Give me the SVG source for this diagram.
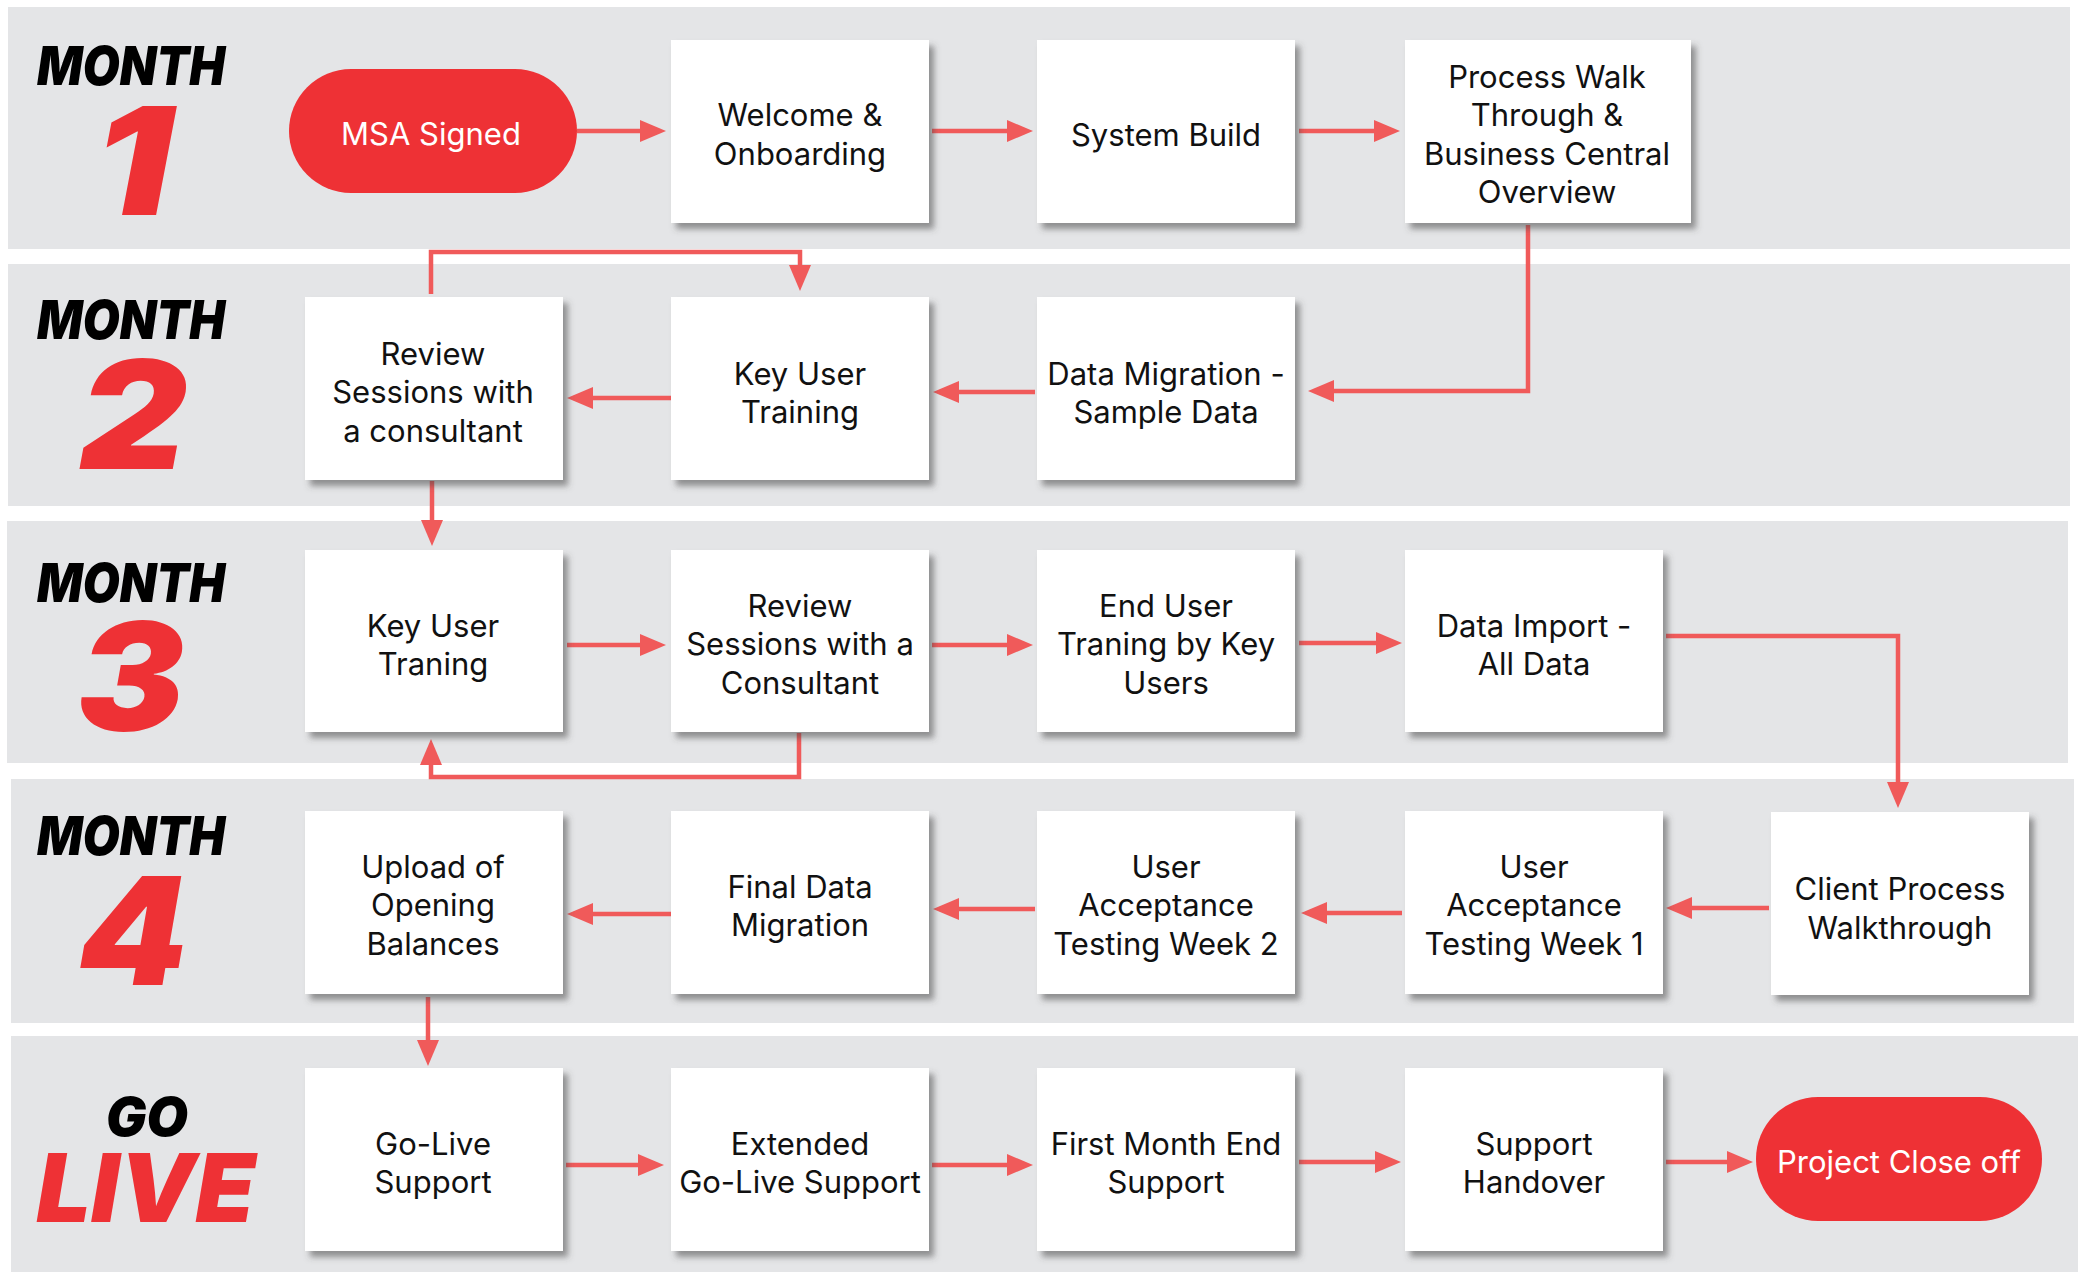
<svg xmlns="http://www.w3.org/2000/svg" width="2078" height="1272" viewBox="0 0 2078 1272">
  <defs>
    <filter id="shadow" x="-10%" y="-10%" width="130%" height="130%">
      <feDropShadow dx="5" dy="6" stdDeviation="3" flood-color="#4a4a4a" flood-opacity="0.55"/>
    </filter>
    <marker id="ah" viewBox="0 0 26 22" refX="17" refY="11" markerWidth="26" markerHeight="22" markerUnits="userSpaceOnUse" orient="auto">
      <path d="M0,0 L26,11 L0,22 z" fill="#f05a5a"/>
    </marker>
    <style>
      .band { fill: #e4e5e7; }
      .box { fill: #ffffff; filter: url(#shadow); }
      .pill { fill: #ee3135; }
      .t { font-family: Inter, "Noto Sans", sans-serif; font-size: 31px; fill: #111111; text-anchor: middle; }
      .pt { font-family: Inter, "Noto Sans", sans-serif; font-size: 31px; fill: #ffffff; text-anchor: middle; }
      .month { font-family: Inter, "Noto Sans", sans-serif; font-weight: 900; font-style: italic; font-size: 54px; fill: #000000; text-anchor: middle; }
      .num { font-family: Inter, "Noto Sans", sans-serif; font-weight: 900; font-style: italic; font-size: 150px; fill: #ee3135; text-anchor: middle; }
      .live { font-family: Inter, "Noto Sans", sans-serif; font-weight: 900; font-style: italic; font-size: 95px; fill: #ee3135; text-anchor: middle; }
      .conn path { fill: none; stroke: #f05a5a; stroke-width: 4.5; marker-end: url(#ah); }
    </style>
  </defs>

  <rect width="2078" height="1272" fill="#ffffff"/>

  <!-- month bands -->
  <g id="bands">
    <rect class="band" x="8" y="7" width="2062" height="242"/>
    <rect class="band" x="8" y="264" width="2062" height="242"/>
    <rect class="band" x="7" y="521" width="2061" height="242"/>
    <rect class="band" x="11" y="779" width="2063" height="244"/>
    <rect class="band" x="11" y="1036" width="2067" height="236"/>
  </g>

  <!-- band titles -->
  <g id="labels">
    <text class="month" x="131" y="85" textLength="188" lengthAdjust="spacingAndGlyphs">MONTH</text>
    <text class="num" x="133" y="215" textLength="78" lengthAdjust="spacingAndGlyphs">1</text>
    <text class="month" x="131" y="339" textLength="188" lengthAdjust="spacingAndGlyphs">MONTH</text>
    <text class="num" x="133" y="469" textLength="108" lengthAdjust="spacingAndGlyphs">2</text>
    <text class="month" x="131" y="602" textLength="188" lengthAdjust="spacingAndGlyphs">MONTH</text>
    <text class="num" x="131" y="731" textLength="108" lengthAdjust="spacingAndGlyphs">3</text>
    <text class="month" x="131" y="855" textLength="188" lengthAdjust="spacingAndGlyphs">MONTH</text>
    <text class="num" x="133" y="985" textLength="110" lengthAdjust="spacingAndGlyphs">4</text>
    <text class="month" x="147" y="1136" textLength="82" lengthAdjust="spacingAndGlyphs">GO</text>
    <text class="live" x="146" y="1222" textLength="219" lengthAdjust="spacingAndGlyphs">LIVE</text>
  </g>

  <!-- connectors -->
  <g id="connectors" class="conn">
    <path d="M577,131 H657"/>
    <path d="M932,131 H1024"/>
    <path d="M1299,131 H1391"/>
    <path d="M1528,225 V391 H1317"/>
    <path d="M1035,392 H942"/>
    <path d="M671,398 H576"/>
    <path d="M431,294 V252 H800 V282"/>
    <path d="M432,481 V537"/>
    <path d="M567,645 H657"/>
    <path d="M799,733 V777 H431 V748"/>
    <path d="M932,645 H1024"/>
    <path d="M1299,643 H1393"/>
    <path d="M1666,636 H1898 V799"/>
    <path d="M1769,908 H1675"/>
    <path d="M1402,913 H1310"/>
    <path d="M1035,909 H942"/>
    <path d="M671,914 H576"/>
    <path d="M428,997 V1057"/>
    <path d="M566,1165 H655"/>
    <path d="M932,1165 H1024"/>
    <path d="M1299,1162 H1392"/>
    <path d="M1666,1162 H1744"/>
  </g>

  <!-- month 1 -->
  <g id="msa-signed">
    <rect class="pill" x="289" y="69" width="288" height="124" rx="62"/>
    <text class="pt" x="431" y="145">MSA Signed</text>
  </g>
  <g id="welcome-onboarding">
    <rect class="box" x="671" y="40" width="258" height="183"/>
    <text class="t" x="800" y="126">Welcome &amp;</text>
    <text class="t" x="800" y="165">Onboarding</text>
  </g>
  <g id="system-build">
    <rect class="box" x="1037" y="40" width="258" height="183"/>
    <text class="t" x="1166" y="146">System Build</text>
  </g>
  <g id="process-walk-through">
    <rect class="box" x="1405" y="40" width="286" height="183"/>
    <text class="t" x="1547" y="88">Process Walk</text>
    <text class="t" x="1547" y="126">Through &amp;</text>
    <text class="t" x="1547" y="165">Business Central</text>
    <text class="t" x="1547" y="203">Overview</text>
  </g>

  <!-- month 2 -->
  <g id="review-sessions-m2">
    <rect class="box" x="305" y="297" width="258" height="183"/>
    <text class="t" x="433" y="365">Review</text>
    <text class="t" x="433" y="403">Sessions with</text>
    <text class="t" x="433" y="442">a consultant</text>
  </g>
  <g id="key-user-training-m2">
    <rect class="box" x="671" y="297" width="258" height="183"/>
    <text class="t" x="800" y="385">Key User</text>
    <text class="t" x="800" y="423">Training</text>
  </g>
  <g id="data-migration-sample">
    <rect class="box" x="1037" y="297" width="258" height="183"/>
    <text class="t" x="1166" y="385">Data Migration -</text>
    <text class="t" x="1166" y="423">Sample Data</text>
  </g>

  <!-- month 3 -->
  <g id="key-user-traning-m3">
    <rect class="box" x="305" y="550" width="258" height="182"/>
    <text class="t" x="433" y="637">Key User</text>
    <text class="t" x="433" y="675">Traning</text>
  </g>
  <g id="review-sessions-m3">
    <rect class="box" x="671" y="550" width="258" height="182"/>
    <text class="t" x="800" y="617">Review</text>
    <text class="t" x="800" y="655">Sessions with a</text>
    <text class="t" x="800" y="694">Consultant</text>
  </g>
  <g id="end-user-training">
    <rect class="box" x="1037" y="550" width="258" height="182"/>
    <text class="t" x="1166" y="617">End User</text>
    <text class="t" x="1166" y="655">Traning by Key</text>
    <text class="t" x="1166" y="694">Users</text>
  </g>
  <g id="data-import-all">
    <rect class="box" x="1405" y="550" width="258" height="182"/>
    <text class="t" x="1534" y="637">Data Import -</text>
    <text class="t" x="1534" y="675">All Data</text>
  </g>

  <!-- month 4 -->
  <g id="upload-opening-balances">
    <rect class="box" x="305" y="811" width="258" height="183"/>
    <text class="t" x="433" y="878">Upload of</text>
    <text class="t" x="433" y="916">Opening</text>
    <text class="t" x="433" y="955">Balances</text>
  </g>
  <g id="final-data-migration">
    <rect class="box" x="671" y="811" width="258" height="183"/>
    <text class="t" x="800" y="898">Final Data</text>
    <text class="t" x="800" y="936">Migration</text>
  </g>
  <g id="uat-week-2">
    <rect class="box" x="1037" y="811" width="258" height="183"/>
    <text class="t" x="1166" y="878">User</text>
    <text class="t" x="1166" y="916">Acceptance</text>
    <text class="t" x="1166" y="955">Testing Week 2</text>
  </g>
  <g id="uat-week-1">
    <rect class="box" x="1405" y="811" width="258" height="183"/>
    <text class="t" x="1534" y="878">User</text>
    <text class="t" x="1534" y="916">Acceptance</text>
    <text class="t" x="1534" y="955">Testing Week 1</text>
  </g>
  <g id="client-process-walkthrough">
    <rect class="box" x="1771" y="812" width="258" height="183"/>
    <text class="t" x="1900" y="900">Client Process</text>
    <text class="t" x="1900" y="939">Walkthrough</text>
  </g>

  <!-- go live -->
  <g id="go-live-support">
    <rect class="box" x="305" y="1068" width="258" height="183"/>
    <text class="t" x="433" y="1155">Go-Live</text>
    <text class="t" x="433" y="1193">Support</text>
  </g>
  <g id="extended-go-live-support">
    <rect class="box" x="671" y="1068" width="258" height="183"/>
    <text class="t" x="800" y="1155">Extended</text>
    <text class="t" x="800" y="1193">Go-Live Support</text>
  </g>
  <g id="first-month-end-support">
    <rect class="box" x="1037" y="1068" width="258" height="183"/>
    <text class="t" x="1166" y="1155">First Month End</text>
    <text class="t" x="1166" y="1193">Support</text>
  </g>
  <g id="support-handover">
    <rect class="box" x="1405" y="1068" width="258" height="183"/>
    <text class="t" x="1534" y="1155">Support</text>
    <text class="t" x="1534" y="1193">Handover</text>
  </g>
  <g id="project-close-off">
    <rect class="pill" x="1756" y="1097" width="286" height="124" rx="62"/>
    <text class="pt" x="1899" y="1173">Project Close off</text>
  </g>
</svg>
